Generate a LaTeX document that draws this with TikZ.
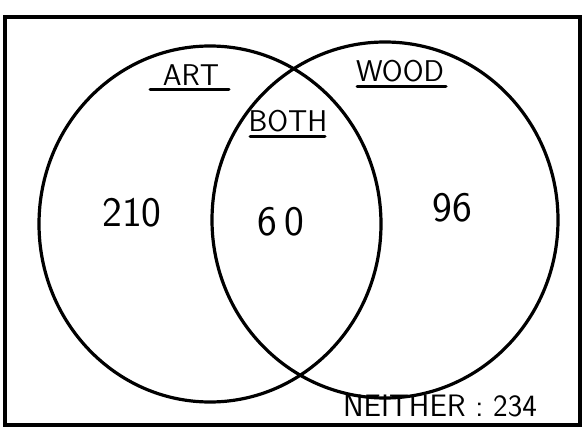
\documentclass[tikz,border=0pt]{standalone}
\usepackage{tikz}
\usetikzlibrary{positioning}

\begin{document}
\begin{tikzpicture}[x=1pt, y=-1pt,
  ring/.style={draw, line width=3.2pt},
  setname/.style={font=\fontsize{30}{30}\selectfont\sffamily, inner sep=1pt},
  count/.style={font=\fontsize{42}{42}\selectfont\sffamily, inner sep=1pt},
  uline/.style={line width=3pt, line cap=round},
]
  \useasboundingbox (0,0) rectangle (583,430);
  \draw[line width=3.2pt] (5,17) rectangle (580,425);

  % the two sets
  \draw[ring] (210,224) ellipse [x radius=171pt, y radius=178pt];
  \draw[ring] (385,220) ellipse [x radius=173pt, y radius=178pt];

  \node[setname] (art) at (191,75) {ART};
  \node[setname] (wood) at (400,71) {WOOD};
  \node[setname] (both) at (288,121) {BOTH};
  \draw[uline] ([xshift=-41pt, yshift=-3pt]art.south) -- ([xshift=38pt, yshift=-3pt]art.south);
  \draw[uline] ([xshift=-43pt, yshift=-3pt]wood.south) -- ([xshift=46pt, yshift=-3pt]wood.south);
  \draw[uline] ([xshift=-38pt, yshift=-3pt]both.south) -- ([xshift=37pt, yshift=-3pt]both.south);

  \node[count] (artonly) at (132,213) {210};
  \node[count] (inboth) at (281,222) {6\,0};
  \node[count] (woodonly) at (452,208) {96};

  \node[font=\fontsize{31}{31}\selectfont\sffamily, inner sep=1pt] (neither) at (440,406) {NEITHER : 234};
\end{tikzpicture}
\end{document}
